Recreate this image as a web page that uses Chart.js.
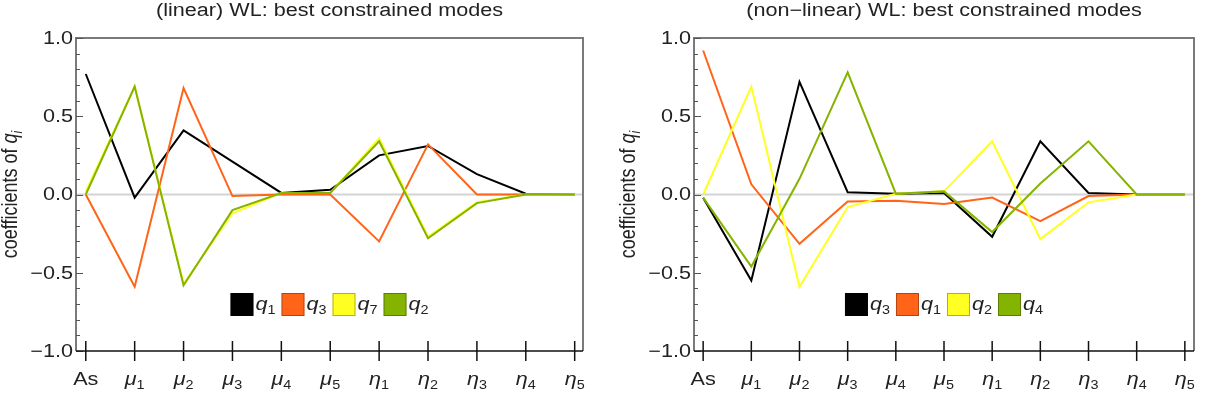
<!DOCTYPE html>
<html>
<head>
<meta charset="utf-8">
<script src="https://cdn.jsdelivr.net/npm/chart.js@4"></script>
<style>
  body { margin: 0; background: #fff; }
  .wrap { display: flex; width: 1216px; height: 412px; }
  canvas { display: block; }
</style>
</head>
<body>
<div class="wrap">
  <canvas id="linChart" width="608" height="412"></canvas>
  <canvas id="nlChart" width="608" height="412"></canvas>
</div>
<script>
// parameters on the x axis (letter + subscript)
var categories = ['As', 'μ1', 'μ2', 'μ3', 'μ4', 'μ5', 'η1', 'η2', 'η3', 'η4', 'η5'];
var yTicks = [-1.0, -0.5, 0.0, 0.5, 1.0];

// (linear) WL
var linLabels = ['q1', 'q3', 'q7', 'q2'];
var lin_q1 = [0.77, -0.02, 0.41, 0.21, 0.01, 0.03, 0.25, 0.31, 0.13, 0.005, 0.0];
var lin_q3 = [0.0, -0.59, 0.68, -0.01, 0.0, 0.0, -0.30, 0.32, 0.0, 0.0, 0.0];
var lin_q7 = [0.02, 0.69, -0.57, -0.12, 0.01, 0.01, 0.36, -0.27, -0.05, 0.0, 0.0];
var lin_q2 = [0.0, 0.69, -0.58, -0.10, 0.01, 0.01, 0.34, -0.28, -0.055, 0.0, 0.0];

// (non-linear) WL
var nlLabels = ['q3', 'q1', 'q2', 'q4'];
var nl_q3 = [-0.02, -0.55, 0.72, 0.015, 0.005, 0.01, -0.27, 0.34, 0.01, 0.0, 0.0];
var nl_q1 = [0.92, 0.065, -0.315, -0.045, -0.04, -0.06, -0.02, -0.17, -0.01, 0.0, 0.0];
var nl_q2 = [0.0, 0.69, -0.59, -0.08, 0.005, 0.02, 0.34, -0.285, -0.05, 0.0, 0.0];
var nl_q4 = [-0.02, -0.46, 0.10, 0.78, 0.005, 0.02, -0.24, 0.07, 0.34, 0.0, 0.0];

var colors = ['#000000', '#ff6418', '#ffff22', '#84b400'];

var FONT = "'Liberation Sans', Arial, sans-serif";
var SX = 1.2; // text in the picture is a bit stretched sideways

// draw a run of text pieces [{t, f, dy}] with one anchor
function drawParts(ctx, parts, x, y, align, rotate) {
  ctx.save();
  ctx.translate(x, y);
  if (rotate) { ctx.rotate(-Math.PI / 2); ctx.scale(1, SX); }
  else ctx.scale(SX, 1);
  var w = 0;
  parts.forEach(function (p) { ctx.font = p.f; p.w = ctx.measureText(p.t).width; w += p.w; });
  var cx = align === 'center' ? -w / 2 : (align === 'right' ? -w : 0);
  ctx.textAlign = 'left';
  parts.forEach(function (p) {
    ctx.font = p.f;
    ctx.fillText(p.t, cx, p.dy || 0);
    cx += p.w;
  });
  ctx.restore();
  return w * SX;
}

function symParts(s, size) {
  if (s.length > 1 && /\d/.test(s.slice(1))) {
    return [{ t: s[0], f: 'italic ' + size + 'px ' + FONT },
            { t: s.slice(1), f: Math.round(size * 0.66) + 'px ' + FONT, dy: 4 }];
  }
  return [{ t: s, f: size + 'px ' + FONT }];
}

var framePlugin = {
  id: 'frame',
  beforeDatasetsDraw: function (chart) {
    var ctx = chart.ctx, a = chart.chartArea, y = chart.scales.y;
    ctx.save();
    ctx.strokeStyle = '#d4d4d4';
    ctx.lineWidth = 2;
    ctx.beginPath();
    ctx.moveTo(a.left, y.getPixelForValue(0));
    ctx.lineTo(a.right, y.getPixelForValue(0));
    ctx.stroke();
    ctx.restore();
  },
  afterDatasetsDraw: function (chart, args, opts) {
    var ctx = chart.ctx, a = chart.chartArea;
    var xs = chart.scales.x, ys = chart.scales.y;
    ctx.save();
    // top / right / left frame
    ctx.strokeStyle = '#7a7a7a';
    ctx.lineWidth = 2;
    ctx.beginPath();
    ctx.moveTo(a.left, a.bottom);
    ctx.lineTo(a.left, a.top);
    ctx.lineTo(a.right, a.top);
    ctx.lineTo(a.right, a.bottom);
    ctx.stroke();
    // y ticks (inward), minor every 0.1
    ctx.strokeStyle = '#555';
    ctx.lineWidth = 1;
    for (var k = -10; k <= 10; k++) {
      var py = Math.round(ys.getPixelForValue(k / 10)) + 0.5;
      var len = (k % 5 === 0) ? 7 : 4;
      ctx.beginPath();
      ctx.moveTo(a.left, py);
      ctx.lineTo(a.left + len, py);
      ctx.stroke();
    }
    // bottom axis
    ctx.strokeStyle = '#111';
    ctx.lineWidth = 1.5;
    ctx.beginPath();
    ctx.moveTo(a.left, a.bottom);
    ctx.lineTo(a.right, a.bottom);
    ctx.stroke();
    categories.forEach(function (c, i) {
      var px = xs.getPixelForValue(i);
      ctx.beginPath();
      ctx.moveTo(px, a.bottom - 10);
      ctx.lineTo(px, a.bottom + 10);
      ctx.stroke();
    });

    ctx.fillStyle = '#222';
    ctx.textBaseline = 'alphabetic';
    // x tick labels
    categories.forEach(function (c, i) {
      drawParts(ctx, symParts(c, 18), xs.getPixelForValue(i), a.bottom + 34, 'center');
    });
    // y tick labels
    ctx.textBaseline = 'middle';
    yTicks.forEach(function (v) {
      var s = v.toFixed(1).replace('-', '\u2212');
      drawParts(ctx, [{ t: s, f: '18px ' + FONT }], a.left - 3, ys.getPixelForValue(v) + 1, 'right');
    });
    ctx.textBaseline = 'alphabetic';
    // title
    drawParts(ctx, [{ t: opts.title, f: '18px ' + FONT }], (a.left + a.right) / 2, 16, 'center');
    // y axis title
    drawParts(ctx, [
      { t: 'coefficients of ', f: '18px ' + FONT },
      { t: 'q', f: 'italic 18px ' + FONT },
      { t: 'i', f: 'italic 12px ' + FONT, dy: 4 }
    ], a.left - 59, (a.top + a.bottom) / 2, 'center', true);

    // legend inside the plot
    var items = opts.labels.map(function (l, i) {
      ctx.font = 'italic 18px ' + FONT;
      var w1 = ctx.measureText(l[0]).width;
      ctx.font = '12px ' + FONT;
      var w2 = ctx.measureText(l.slice(1)).width;
      return { l: l, c: colors[i], tw: (w1 + w2) * SX };
    });
    var box = 23, gap1 = 2, gap2 = 6;
    var total = 0;
    items.forEach(function (it) { total += box + gap1 + it.tw + gap2; });
    total -= gap2;
    var lx = (a.left + a.right) / 2 - total / 2;
    var ly = a.bottom - 58;
    items.forEach(function (it) {
      ctx.fillStyle = it.c;
      ctx.fillRect(lx, ly, box, box);
      ctx.strokeStyle = 'rgba(0,0,0,0.3)';
      ctx.lineWidth = 1;
      ctx.strokeRect(lx + 0.5, ly + 0.5, box - 1, box - 1);
      ctx.fillStyle = '#222';
      drawParts(ctx, symParts(it.l, 18), lx + box + gap1, ly + 17, 'left');
      lx += box + gap1 + it.tw + gap2;
    });
    ctx.restore();
  }
};

function makeChart(id, title, labels, series, pad, xMin, xMax) {
  var datasets = series.map(function (vals, i) {
    return {
      label: labels[i],
      data: vals.map(function (v, k) { return { x: k, y: v }; }),
      borderColor: colors[i],
      backgroundColor: colors[i],
      borderWidth: 2,
      pointRadius: 0,
      tension: 0,
      order: -i
    };
  });
  return new Chart(document.getElementById(id).getContext('2d'), {
    type: 'line',
    data: { datasets: datasets },
    options: {
      responsive: false,
      animation: false,
      layout: { padding: pad },
      scales: {
        x: { type: 'linear', display: false, min: xMin, max: xMax },
        y: { type: 'linear', display: false, min: -1, max: 1 }
      },
      plugins: {
        legend: { display: false },
        tooltip: { enabled: false },
        frame: { title: title, labels: labels }
      }
    },
    plugins: [framePlugin]
  });
}

makeChart('linChart', '(linear) WL: best constrained modes', linLabels,
  [lin_q1, lin_q3, lin_q7, lin_q2],
  { left: 76, right: 25, top: 38, bottom: 61 }, -0.2, 10.17);

makeChart('nlChart', '(non\u2212linear) WL: best constrained modes', nlLabels,
  [nl_q3, nl_q1, nl_q2, nl_q4],
  { left: 86, right: 22, top: 38, bottom: 61 }, -0.19, 10.19);
</script>
</body>
</html>
